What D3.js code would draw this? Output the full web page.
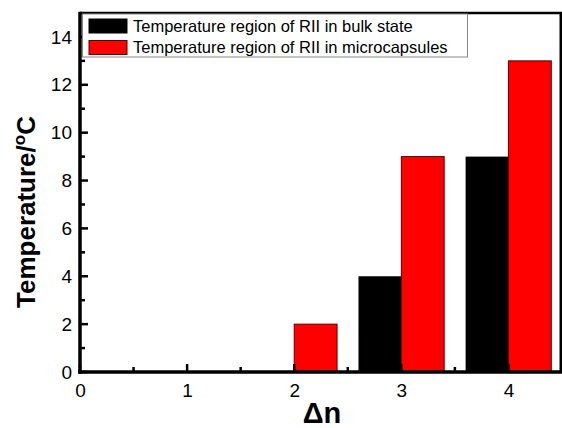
<!DOCTYPE html>
<html>
<head>
<meta charset="utf-8">
<script src="https://cdn.jsdelivr.net/npm/d3@7"></script>
<style>
  body { margin: 0; background: #fff; color: #000; }
  text { font-family: Arial, "Liberation Sans", sans-serif; }
</style>
</head>
<body>
<div id="chart"></div>
<script>
// Data
const deltaN = [0, 1, 2, 3, 4];
const bulkRegion = [0, 0, 0, 4, 9];        // black bars
const microRegion = [0, 0, 2, 9, 13];      // red bars
const yTickValues = [0, 2, 4, 6, 8, 10, 12, 14];
const xTickValues = [0, 1, 2, 3, 4];
const yMinorTicks = [1, 3, 5, 7, 9, 11, 13];
const xMinorTicks = [0.5, 1.5, 2.5, 3.5];
const seriesNames = ["Temperature region of RII in bulk state", "Temperature region of RII in microcapsules"];

const W = 562, H = 428;
const margin = { top: 13, right: 0, bottom: 56, left: 80 };
const barW = 0.4;

const svg = d3.select("#chart").append("svg")
  .attr("width", W)
  .attr("height", H);

const x = d3.scaleLinear().domain([0, 4.5]).range([margin.left, W - margin.right]);
const y = d3.scaleLinear().domain([0, 15]).range([H - margin.bottom, margin.top]);

// Bars
svg.selectAll(".bulk")
  .data(deltaN.map((d, i) => ({ n: d, v: bulkRegion[i] })).filter(d => d.v > 0))
  .enter().append("rect")
  .attr("class", "bulk")
  .attr("x", d => x(d.n - barW))
  .attr("y", d => y(d.v))
  .attr("width", d => x(d.n) - x(d.n - barW))
  .attr("height", d => y(0) - y(d.v))
  .attr("fill", "#000");

svg.selectAll(".micro")
  .data(deltaN.map((d, i) => ({ n: d, v: microRegion[i] })).filter(d => d.v > 0))
  .enter().append("rect")
  .attr("class", "micro")
  .attr("x", d => x(d.n))
  .attr("y", d => y(d.v))
  .attr("width", d => x(d.n + barW) - x(d.n))
  .attr("height", d => y(0) - y(d.v))
  .attr("fill", "#ff0000")
  .attr("stroke", "#5a0000")
  .attr("stroke-width", 1);

// Axis labels via d3 axes
const xAxis = svg.append("g")
  .attr("transform", `translate(0,${y(0)})`)
  .call(d3.axisBottom(x).tickValues(xTickValues).tickSize(0).tickPadding(12).tickFormat(d3.format("d")));

const yAxis = svg.append("g")
  .attr("transform", `translate(${x(0)},0)`)
  .call(d3.axisLeft(y).tickValues(yTickValues).tickSize(0).tickPadding(8).tickFormat(d3.format("d")));

[xAxis, yAxis].forEach(a => {
  a.select(".domain").remove();
  a.selectAll(".tick line").remove();
  a.selectAll("text")
    .attr("fill", "#000")
    .style("font-size", "19px")
    .style("font-family", "Arial, 'Liberation Sans', sans-serif");
});

// Lines drawn as filled rects
const lw = 3.5, tw = 2.5;
const rule = (x0, y0, w, h) => svg.append("rect")
  .attr("x", x0).attr("y", y0).attr("width", w).attr("height", h)
  .attr("fill", "#000");

// inward ticks
xTickValues.forEach(v => rule(x(v) - tw / 2, y(0) - 8, tw, 8));
xMinorTicks.forEach(v => rule(x(v) - tw / 2, y(0) - 5, tw, 5));
yTickValues.forEach(v => rule(x(0), y(v) - tw / 2, 8, tw));
yMinorTicks.forEach(v => rule(x(0), y(v) - tw / 2, 5, tw));

// frame: top and right
rule(x(0), y(15) - 1.25, x(4.5) - x(0), 2.5);
rule(x(4.5) - 2.5, y(15), 2.5, y(0) - y(15));
// axes: left and bottom
rule(x(0) - lw / 2, y(15) - 1.25, lw, y(0) - y(15) + lw / 2 + 1.25);
rule(x(0) - lw / 2, y(0) - lw / 2, x(4.5) - x(0) + lw / 2, lw);

// Legend
const legend = svg.append("g");
legend.append("rect")
  .attr("x", 82.5).attr("y", 14)
  .attr("width", 385).attr("height", 43)
  .attr("fill", "#fff")
  .attr("stroke", "#888")
  .attr("stroke-width", 1);

const legColors = ["#000", "#ff0000"];
seriesNames.forEach((name, i) => {
  legend.append("rect")
    .attr("x", 89).attr("y", 19 + i * 21.5)
    .attr("width", 38).attr("height", 14)
    .attr("fill", legColors[i])
    .attr("stroke", i ? "#5a0000" : "#000")
    .attr("stroke-width", 1);
  legend.append("text")
    .attr("x", 133).attr("y", 31.5 + i * 21.5)
    .style("font-size", "16.5px")
    .attr("fill", "#000")
    .text(name);
});

// Axis titles
svg.append("text")
  .attr("transform", `translate(35,212) rotate(-90)`)
  .attr("text-anchor", "middle")
  .style("font-size", "26px")
  .style("font-weight", "bold")
  .call(t => {
    t.append("tspan").text("Temperature/");
    t.append("tspan").attr("dy", -10).style("font-size", "17px").text("o");
    t.append("tspan").attr("dy", 10).text("C");
  });

svg.append("text")
  .attr("x", 322).attr("y", 423)
  .attr("text-anchor", "middle")
  .style("font-size", "29px")
  .style("font-weight", "bold")
  .text("Δn");
</script>
</body>
</html>
